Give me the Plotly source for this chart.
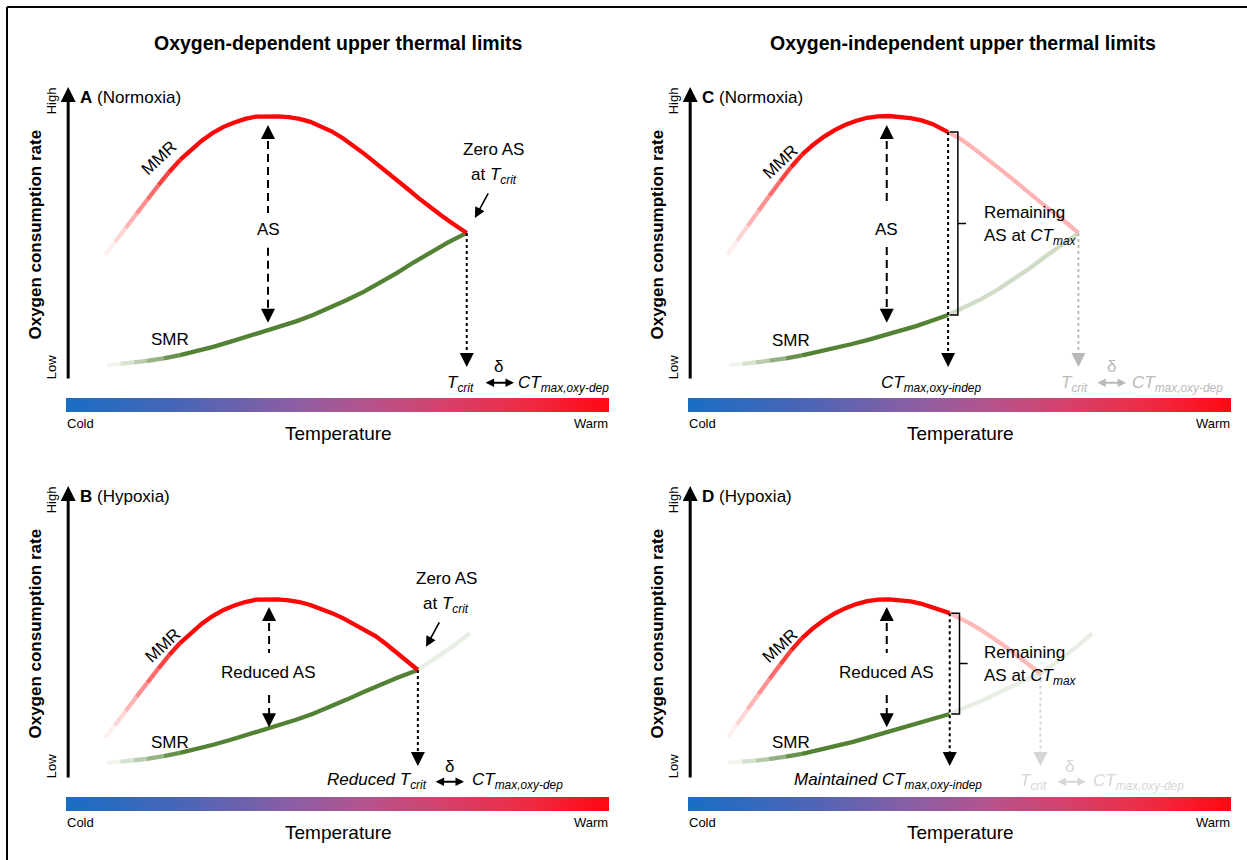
import plotly.graph_objects as go

# ---------------- data ----------------
# temperature: 0 = cold end, 100 = warm end of the colour bar
# rate: 0 = "Low", 100 = "High"
A_MMR_T = [7.2, 9, 11, 13, 15, 17, 19, 21, 23, 25, 27, 29, 31, 33, 35, 37, 39, 41, 43, 45, 47, 49, 51, 53, 55, 57, 59, 61, 63, 65, 67, 69, 71, 73.8]
A_MMR_R = [42.7, 47.1, 51.9, 56.8, 61.6, 66.4, 71.0, 75.1, 78.6, 81.7, 84.3, 86.4, 87.9, 89.1, 89.9, 90.1, 90.0, 89.7, 89.1, 88.1, 86.6, 84.8, 82.5, 79.9, 77.1, 74.1, 71.2, 68.2, 65.1, 62.0, 59.0, 56.3, 53.7, 50.2]
A_SMR_T = [7.6, 10.0, 12.5, 14.9, 18.0, 21.0, 24.0, 27.1, 30.2, 33.3, 36.4, 39.4, 42.5, 45.5, 48.6, 51.7, 54.8, 57.8, 60.9, 63.9, 67.0, 70.2, 73.8]
A_SMR_R = [5.1, 5.5, 6.0, 6.5, 7.4, 8.5, 9.8, 11.3, 13.0, 14.7, 16.4, 18.1, 20.1, 22.2, 24.6, 27.3, 30.1, 33.1, 36.5, 40.0, 43.3, 46.8, 50.2]

B_MMR_T = [7.2, 9, 11, 13, 15, 17, 19, 21, 23, 25, 27, 29, 31, 33, 35, 37, 39, 41, 43, 45, 47, 49, 51, 53, 55, 57, 59, 61, 63, 64.8]
B_MMR_R = [14.0, 18.4, 23.2, 28.1, 32.9, 37.7, 42.3, 46.4, 49.9, 53.0, 55.6, 57.7, 59.2, 60.4, 61.2, 61.4, 61.3, 61.0, 60.4, 59.4, 58.1, 56.6, 54.9, 53.0, 51.0, 48.8, 46.0, 43.0, 40.0, 37.2]
B_SMR_T = [7.6, 10.0, 12.5, 14.9, 18.0, 21.0, 24.0, 27.1, 30.2, 33.3, 36.4, 39.4, 42.5, 45.5, 48.6, 51.7, 54.8, 57.8, 60.9, 64.8, 67.5, 71.0, 74.4]
B_SMR_R = [5.5, 5.9, 6.4, 6.9, 7.8, 8.9, 10.2, 11.7, 13.3, 15.0, 16.7, 18.4, 20.3, 22.3, 24.6, 27.1, 29.7, 32.1, 34.5, 37.2, 40.5, 45.0, 49.8]

C_MMR_T = [7.2, 9, 11, 13, 15, 17, 19, 21, 23, 25, 27, 29, 31, 33, 35, 37, 39, 41, 43, 45, 47.9, 50, 52, 54, 56, 58, 60, 62, 64, 66, 68, 70, 71.9]
C_MMR_R = [42.7, 47.4, 52.6, 57.8, 62.9, 67.9, 72.7, 76.9, 80.2, 83.0, 85.3, 87.1, 88.5, 89.5, 90.0, 90.1, 89.9, 89.4, 88.6, 87.4, 84.6, 82.5, 79.9, 77.1, 74.1, 71.2, 68.2, 65.1, 62.0, 59.0, 56.3, 53.3, 50.2]
C_SMR_T = [7.7, 10.0, 12.5, 15.0, 18.0, 21.0, 24.0, 27.0, 30.0, 33.0, 36.0, 39.0, 42.0, 45.0, 47.9, 51.0, 54.0, 57.0, 60.0, 63.0, 66.0, 69.0, 71.9]
C_SMR_R = [5.1, 5.5, 6.0, 6.6, 7.4, 8.4, 9.6, 10.9, 12.2, 13.6, 15.1, 16.7, 18.4, 20.3, 22.2, 24.8, 27.6, 30.8, 34.3, 38.2, 42.4, 46.4, 50.1]

D_MMR_T = [7.4, 9, 11, 13, 15, 17, 19, 21, 23, 25, 27, 29, 31, 33, 35, 37, 39, 41, 43, 45, 48.2, 50, 52, 54, 56, 58, 60, 62, 64.9]
D_MMR_R = [14.4, 18.6, 23.8, 29.0, 34.1, 39.1, 43.9, 48.1, 51.4, 54.2, 56.5, 58.3, 59.7, 60.7, 61.2, 61.3, 61.1, 60.6, 59.8, 58.6, 56.6, 55.0, 53.0, 50.8, 48.4, 45.8, 43.0, 40.0, 36.0]
D_SMR_T = [7.4, 10.0, 12.5, 14.9, 18.0, 21.0, 24.0, 27.1, 30.2, 33.3, 36.4, 39.4, 42.5, 45.5, 48.2, 51.5, 54.8, 58.0, 61.5, 64.9, 68.0, 71.2, 74.4]
D_SMR_R = [5.6, 5.9, 6.3, 6.8, 7.6, 8.6, 9.8, 11.1, 12.6, 14.2, 15.8, 17.3, 18.9, 20.5, 22.2, 24.6, 27.3, 30.2, 33.0, 36.0, 40.0, 44.5, 49.7]

A_TCRIT = 73.8
B_TCRIT = 64.8
C_CTMAX, C_TCRIT = 47.9, 71.9
D_CTMAX, D_TCRIT = 48.2, 64.9

BAR_T = [0, 100]
BAR_LEVEL = [[0, 100], [0, 100]]
BAR_Y = [0, 1]
TEMP_SCALE = [[0.0, "rgb(24,110,196)"], [0.22, "rgb(76,101,182)"], [0.42, "rgb(140,94,164)"],
              [0.56, "rgb(182,82,138)"], [0.7, "rgb(214,64,106)"], [0.85, "rgb(238,42,66)"],
              [1.0, "rgb(255,8,18)"]]

# ---------------- geometry ----------------
W, H = 1247, 860
X_LO, X_HI = -8.4715, 102.026
Y_LO, Y_HI = -20.478, 102.389
FONT = "Liberation Sans, Arial, Helvetica, sans-serif"
RED = (252, 6, 6)
GREEN = (84, 130, 53)
GRAY1 = "rgb(185,185,185)"
GRAY2 = "rgb(214,214,214)"


def dom_x(p0, p1):
    return [p0 / W, p1 / W]


def dom_y(top, bot):
    return [1 - bot / H, 1 - top / H]


# panel axes (x, y, x-domain, y-domain) and colour-bar axes
PANELS = {
    "A": ("x", "y", dom_x(20, 620), dom_y(80, 440), dom_x(66, 609), dom_y(398, 412)),
    "B": ("x2", "y2", dom_x(20, 620), dom_y(479, 839), dom_x(66, 609), dom_y(797, 811)),
    "C": ("x3", "y3", dom_x(642, 1242), dom_y(80, 440), dom_x(688, 1231), dom_y(398, 412)),
    "D": ("x4", "y4", dom_x(642, 1242), dom_y(479, 839), dom_x(688, 1231), dom_y(797, 811)),
}

fig = go.Figure()
ann = []


def tint(rgb, a):
    return "rgb(%d,%d,%d)" % tuple(round(255 - a * (255 - c)) for c in rgb)


def value_at(xs, ys, x):
    return ys[xs.index(x)]


def add_curve(xs, ys, rgb, xa, ya, fade_end=21.0, cut=None, tail=1.0, width=4.3):
    x0 = xs[0]

    def alpha(xm):
        if cut is not None and xm > cut:
            return tail
        if xm < fade_end:
            return 0.03 + 0.97 * ((xm - x0) / (fade_end - x0)) ** 1.2
        return 1.0

    groups = []
    for i in range(len(xs) - 1):
        col = tint(rgb, alpha((xs[i] + xs[i + 1]) / 2))
        if groups and groups[-1][0] == col:
            groups[-1][1].append(i + 1)
        else:
            groups.append([col, [i, i + 1]])
    for col, idx in groups:
        fig.add_trace(go.Scatter(
            x=[xs[j] for j in idx], y=[ys[j] for j in idx], mode="lines",
            line=dict(color=col, width=width),
            xaxis=xa, yaxis=ya, hoverinfo="skip", showlegend=False))


def vline(x, y0, y1, xa, ya, dash, color="black", width=2):
    fig.add_trace(go.Scatter(x=[x, x], y=[y0, y1], mode="lines",
                             line=dict(color=color, width=width, dash=dash),
                             xaxis=xa, yaxis=ya, hoverinfo="skip", showlegend=False))


def head(x, y, xa, ya, down=True, color="black"):
    ann.append(dict(x=x, y=y, xref=xa, yref=ya, text="", showarrow=True,
                    ax=0, ay=-9 if down else 9, arrowhead=2, arrowsize=1.4,
                    arrowwidth=2, arrowcolor=color, standoff=0))


def text(x, y, xa, ya, s, size=17, color="black", xanchor="center", angle=0):
    ann.append(dict(x=x, y=y, xref=xa, yref=ya, text=s, showarrow=False,
                    xanchor=xanchor, yanchor="middle", textangle=angle,
                    font=dict(family=FONT, size=size, color=color)))


def dbl_arrow(x0, x1, y, xa, ya, color="black"):
    ann.append(dict(x=x1, y=y, ax=x0, ay=y, xref=xa, yref=ya, axref=xa, ayref=ya,
                    text="", showarrow=True, arrowside="end+start", arrowhead=2,
                    startarrowhead=2, arrowsize=0.85, startarrowsize=0.85,
                    arrowwidth=2, arrowcolor=color, standoff=0, startstandoff=0))


def common(key, letter, cond, bar_idx):
    xa, ya = PANELS[key][0], PANELS[key][1]
    fig.add_trace(go.Heatmap(x=BAR_T, y=BAR_Y, z=BAR_LEVEL, colorscale=TEMP_SCALE,
                             zmin=0, zmax=100, zsmooth="best", showscale=False,
                             hoverinfo="skip", xaxis="x%d" % bar_idx, yaxis="y%d" % bar_idx))
    ann.append(dict(x=0.4, y=100, ax=0.4, ay=0, xref=xa, yref=ya, axref=xa, ayref=ya,
                    text="", showarrow=True, arrowhead=2, arrowsize=1.0,
                    arrowwidth=3, arrowcolor="black", standoff=0))
    text(2.3, 96.4, xa, ya, "<b>%s</b> (%s)" % (letter, cond), size=17, xanchor="left")
    text(-2.6, 95.4, xa, ya, "High", size=13, angle=-90)
    text(-2.6, 4.3, xa, ya, "Low", size=13, angle=-90)
    text(-5.6, 49.5, xa, ya, "<b>Oxygen consumption rate</b>", size=17, angle=-90)
    text(2.7, -15.0, xa, ya, "Cold", size=13)
    text(96.6, -15.0, xa, ya, "Warm", size=13)
    text(50.1, -18.2, xa, ya, "Temperature", size=19)


def bracket(xc, top, bot, xa, ya):
    mid = (top + bot) / 2
    fig.add_shape(type="path", xref=xa, yref=ya,
                  path="M %.2f %.2f L %.2f %.2f L %.2f %.2f L %.2f %.2f M %.2f %.2f L %.2f %.2f" % (
                      xc + 0.3, top, xc + 1.8, top, xc + 1.8, bot, xc + 0.3, bot,
                      xc + 1.8, mid, xc + 3.3, mid),
                  line=dict(color="black", width=1.5))


# ---------------- panel A ----------------
xa, ya = "x", "y"
common("A", "A", "Normoxia", 5)
add_curve(A_SMR_T, A_SMR_R, GREEN, xa, ya)
add_curve(A_MMR_T, A_MMR_R, RED, xa, ya)
text(17.3, 75.8, xa, ya, "MMR", angle=-43)
text(19.2, 13.7, xa, ya, "SMR")
vline(37.2, 86.0, 57.0, xa, ya, "8px,5px")
vline(37.2, 45.1, 20.5, xa, ya, "8px,5px")
head(37.2, 87.0, xa, ya, down=False)
head(37.2, 19.5, xa, ya, down=True)
text(37.2, 51.2, xa, ya, "AS")
vline(A_TCRIT, A_MMR_R[-1], 6.0, xa, ya, "dot")
head(A_TCRIT, 4.4, xa, ya)
text(78.8, 78.5, xa, ya, "Zero AS")
text(78.8, 69.6, xa, ya, "at <i>T<sub>crit</sub></i>")
ann.append(dict(x=75.3, y=55.3, ax=77.9, ay=64.2, xref=xa, yref=ya, axref=xa, ayref=ya,
                text="", showarrow=True, arrowhead=2, arrowsize=1.3, arrowwidth=1.6,
                arrowcolor="black", standoff=0))
text(72.7, -1.2, xa, ya, "<i>T<sub>crit</sub></i>")
text(79.6, 4.6, xa, ya, "δ")
dbl_arrow(77.0, 82.5, -0.9, xa, ya)
text(91.7, -1.2, xa, ya, "<i>CT<sub>max,oxy-dep</sub></i>")

# ---------------- panel B ----------------
xa, ya = "x2", "y2"
common("B", "B", "Hypoxia", 6)
add_curve(B_SMR_T, B_SMR_R, GREEN, xa, ya, cut=B_TCRIT, tail=0.14)
add_curve(B_MMR_T, B_MMR_R, RED, xa, ya)
text(17.9, 45.4, xa, ya, "MMR", angle=-43)
text(19.2, 12.6, xa, ya, "SMR")
vline(37.4, 57.7, 43.0, xa, ya, "8px,5px")
vline(37.4, 28.7, 18.7, xa, ya, "8px,5px")
head(37.4, 58.7, xa, ya, down=False)
head(37.4, 17.7, xa, ya, down=True)
text(37.2, 36.2, xa, ya, "Reduced AS")
vline(B_TCRIT, B_MMR_R[-1], 6.0, xa, ya, "dot")
head(B_TCRIT, 4.4, xa, ya)
text(70.0, 68.3, xa, ya, "Zero AS")
text(70.0, 59.4, xa, ya, "at <i>T<sub>crit</sub></i>")
ann.append(dict(x=66.3, y=45.1, ax=68.9, ay=54.0, xref=xa, yref=ya, axref=xa, ayref=ya,
                text="", showarrow=True, arrowhead=2, arrowsize=1.3, arrowwidth=1.6,
                arrowcolor="black", standoff=0))
text(57.3, -0.8, xa, ya, "<i>Reduced T<sub>crit</sub></i>")
text(70.7, 4.4, xa, ya, "δ")
dbl_arrow(67.8, 73.3, -0.9, xa, ya)
text(83.1, -0.8, xa, ya, "<i>CT<sub>max,oxy-dep</sub></i>")

# ---------------- panel C ----------------
xa, ya = "x3", "y3"
common("C", "C", "Normoxia", 7)
add_curve(C_SMR_T, C_SMR_R, GREEN, xa, ya, cut=C_CTMAX, tail=0.28)
add_curve(C_MMR_T, C_MMR_R, RED, xa, ya, cut=C_CTMAX, tail=0.3)
text(17.1, 74.6, xa, ya, "MMR", angle=-43)
text(19.0, 13.4, xa, ya, "SMR")
vline(36.6, 86.0, 59.7, xa, ya, "8px,5px")
vline(36.6, 45.4, 20.5, xa, ya, "8px,5px")
head(36.6, 87.0, xa, ya, down=False)
head(36.6, 19.5, xa, ya, down=True)
text(36.6, 51.2, xa, ya, "AS")
c_top = value_at(C_MMR_T, C_MMR_R, C_CTMAX)
c_bot = value_at(C_SMR_T, C_SMR_R, C_CTMAX)
vline(C_CTMAX, c_top, 6.0, xa, ya, "dot")
head(C_CTMAX, 4.4, xa, ya)
bracket(C_CTMAX, c_top, c_bot, xa, ya)
text(54.1, 57.3, xa, ya, "Remaining", xanchor="left")
text(54.1, 48.9, xa, ya, "AS at <i>CT<sub>max</sub></i>", xanchor="left")
text(44.8, -1.2, xa, ya, "<i>CT<sub>max,oxy-indep</sub></i>")
vline(C_TCRIT, C_MMR_R[-1], 6.0, xa, ya, "dot", color=GRAY1)
head(C_TCRIT, 4.4, xa, ya, color=GRAY1)
text(71.1, -1.2, xa, ya, "<i>T<sub>crit</sub></i>", color=GRAY1)
text(77.9, 4.6, xa, ya, "δ", color=GRAY1)
dbl_arrow(75.1, 80.7, -0.9, xa, ya, color=GRAY1)
text(90.2, -1.2, xa, ya, "<i>CT<sub>max,oxy-dep</sub></i>", color=GRAY1)

# ---------------- panel D ----------------
xa, ya = "x4", "y4"
common("D", "D", "Hypoxia", 8)
add_curve(D_SMR_T, D_SMR_R, GREEN, xa, ya, cut=D_CTMAX, tail=0.14)
add_curve(D_MMR_T, D_MMR_R, RED, xa, ya, cut=D_CTMAX, tail=0.28)
text(17.1, 45.4, xa, ya, "MMR", angle=-43)
text(19.0, 12.6, xa, ya, "SMR")
vline(36.6, 57.7, 43.0, xa, ya, "8px,5px")
vline(36.6, 28.7, 18.7, xa, ya, "8px,5px")
head(36.6, 58.7, xa, ya, down=False)
head(36.6, 17.7, xa, ya, down=True)
text(36.6, 36.2, xa, ya, "Reduced AS")
d_top = value_at(D_MMR_T, D_MMR_R, D_CTMAX)
d_bot = value_at(D_SMR_T, D_SMR_R, D_CTMAX)
vline(D_CTMAX, d_top, 6.0, xa, ya, "dot")
head(D_CTMAX, 4.4, xa, ya)
bracket(D_CTMAX, d_top, d_bot, xa, ya)
text(54.1, 43.2, xa, ya, "Remaining", xanchor="left")
text(54.1, 34.8, xa, ya, "AS at <i>CT<sub>max</sub></i>", xanchor="left")
text(36.8, -0.8, xa, ya, "<i>Maintained CT<sub>max,oxy-indep</sub></i>")
vline(D_TCRIT, D_MMR_R[-1], 6.0, xa, ya, "dot", color=GRAY2)
head(D_TCRIT, 4.4, xa, ya, color=GRAY2)
text(63.7, -1.0, xa, ya, "<i>T<sub>crit</sub></i>", color=GRAY2)
text(70.3, 4.4, xa, ya, "δ", color=GRAY2)
dbl_arrow(67.8, 73.3, -0.9, xa, ya, color=GRAY2)
text(82.9, -1.0, xa, ya, "<i>CT<sub>max,oxy-dep</sub></i>", color=GRAY2)

# ---------------- titles & frame ----------------
for xpx, title in [(338, "Oxygen-dependent upper thermal limits"),
                   (963, "Oxygen-independent upper thermal limits")]:
    ann.append(dict(x=xpx / W, y=1 - 43 / H, xref="paper", yref="paper", showarrow=False,
                    xanchor="center", yanchor="middle", text="<b>%s</b>" % title,
                    font=dict(family=FONT, size=19.5, color="black")))
fig.add_shape(type="line", xref="paper", yref="paper", x0=7 / W, x1=1, y0=1 - 7 / H, y1=1 - 7 / H,
              line=dict(color="black", width=2))
fig.add_shape(type="line", xref="paper", yref="paper", x0=7 / W, x1=7 / W, y0=0, y1=1 - 7 / H,
              line=dict(color="black", width=2))

ax_common = dict(visible=False, showgrid=False, zeroline=False, fixedrange=True)
layout_axes = {}
for i, key in enumerate("ABCD"):
    xa, ya, xd, yd, bxd, byd = PANELS[key]
    sfx = "" if i == 0 else str(i + 1)
    layout_axes["xaxis" + sfx] = dict(domain=xd, range=[X_LO, X_HI], anchor=ya, **ax_common)
    layout_axes["yaxis" + sfx] = dict(domain=yd, range=[Y_LO, Y_HI], anchor=xa, **ax_common)
    b = str(i + 5)
    layout_axes["xaxis" + b] = dict(domain=bxd, range=[0, 100], anchor="y" + b, **ax_common)
    layout_axes["yaxis" + b] = dict(domain=byd, range=[0, 1], anchor="x" + b, **ax_common)

fig.update_layout(width=W, height=H, margin=dict(l=0, r=0, t=0, b=0),
                  paper_bgcolor="white", plot_bgcolor="rgba(0,0,0,0)",
                  showlegend=False, annotations=ann, font=dict(family=FONT),
                  **layout_axes)
fig.write_html("out.html", config={"displayModeBar": False},
               post_script="document.body.style.margin='0px';document.body.style.overflow='hidden';")
